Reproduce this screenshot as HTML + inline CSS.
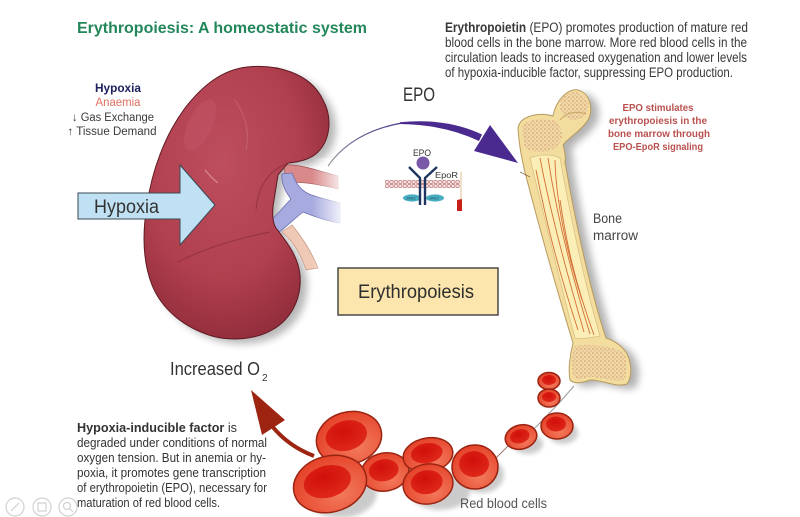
<!DOCTYPE html>
<html><head><meta charset="utf-8"><style>
html,body{margin:0;padding:0;background:#fff;}
svg{display:block;}
text{font-family:"Liberation Sans",sans-serif;}
</style></head><body>
<svg width="800" height="517" viewBox="0 0 800 517" xmlns="http://www.w3.org/2000/svg">
<defs>
  <radialGradient id="kid" cx="0.42" cy="0.35" r="0.7">
    <stop offset="0" stop-color="#bd4e5e"/>
    <stop offset="0.6" stop-color="#b1404f"/>
    <stop offset="1" stop-color="#8f2b39"/>
  </radialGradient>
  <radialGradient id="cellOut" cx="0.6" cy="0.7" r="0.7">
    <stop offset="0" stop-color="#f37a5c"/>
    <stop offset="1" stop-color="#e5432a"/>
  </radialGradient>
  <radialGradient id="cellIn" cx="0.45" cy="0.35" r="0.7">
    <stop offset="0" stop-color="#d10f0b"/>
    <stop offset="1" stop-color="#df2a1a"/>
  </radialGradient>
  <linearGradient id="fadeR" x1="0" x2="1" y1="0" y2="0">
    <stop offset="0" stop-color="#fff" stop-opacity="0"/>
    <stop offset="1" stop-color="#fff" stop-opacity="1"/>
  </linearGradient>
  <linearGradient id="thinArc" x1="0" x2="1" y1="1" y2="0">
    <stop offset="0" stop-color="#9a9a9a"/>
    <stop offset="1" stop-color="#4b3690"/>
  </linearGradient>
  <pattern id="stip" width="4" height="4" patternUnits="userSpaceOnUse">
    <rect width="4" height="4" fill="#efd8a6"/>
    <circle cx="1" cy="1" r="0.7" fill="#cf8e5c"/>
    <circle cx="3" cy="3" r="0.6" fill="#d9a070"/>
  </pattern>
  <pattern id="mem" width="4.4" height="8" patternUnits="userSpaceOnUse" x="385" y="180">
    <rect width="4.4" height="8" fill="#fbeeee"/>
    <circle cx="2.2" cy="2" r="1.7" fill="#fbe6e6" stroke="#b86a6a" stroke-width="0.6"/>
    <circle cx="2.2" cy="6" r="1.7" fill="#fbe6e6" stroke="#b86a6a" stroke-width="0.6"/>
  </pattern>
  <filter id="blur4" x="-20%" y="-20%" width="140%" height="140%"><feGaussianBlur stdDeviation="4"/></filter>
  <filter id="blur2" x="-30%" y="-30%" width="160%" height="160%"><feGaussianBlur stdDeviation="2.5"/></filter>
</defs>

<!-- Title -->
<text x="77" y="33" font-size="16" font-weight="bold" fill="#23875a" textLength="290" lengthAdjust="spacingAndGlyphs">Erythropoiesis: A homeostatic system</text>

<!-- Top right paragraph -->
<g font-size="13.5" fill="#383838">
  <text x="445" y="32" textLength="303" lengthAdjust="spacingAndGlyphs"><tspan font-weight="bold">Erythropoietin</tspan> (EPO) promotes production of mature red</text>
  <text x="445" y="47" textLength="302" lengthAdjust="spacingAndGlyphs">blood cells in the bone marrow. More red blood cells in the</text>
  <text x="445" y="62" textLength="302" lengthAdjust="spacingAndGlyphs">circulation leads to increased oxygenation and lower levels</text>
  <text x="445" y="77" textLength="288" lengthAdjust="spacingAndGlyphs">of hypoxia-inducible factor, suppressing EPO production.</text>
</g>

<!-- Left list -->
<g font-size="11.5" text-anchor="middle">
  <text x="118" y="92" font-weight="bold" fill="#1e2160" textLength="46" lengthAdjust="spacingAndGlyphs">Hypoxia</text>
  <text x="118" y="106" fill="#e0705e" textLength="45" lengthAdjust="spacingAndGlyphs">Anaemia</text>
  <text x="113" y="121" fill="#3a3a3a" textLength="82" lengthAdjust="spacingAndGlyphs">↓ Gas Exchange</text>
  <text x="112" y="135" fill="#3a3a3a" textLength="89" lengthAdjust="spacingAndGlyphs">↑ Tissue Demand</text>
</g>

<!-- Kidney shadow -->
<path d="M247,67 C275,64 310,72 323,100 C333,118 330,140 318,152 C310,160 298,162 288,163 L278,175 L272,205 L276,228 C285,240 298,255 300,275 C302,300 290,320 272,330 C255,340 230,341 212,336 C185,328 162,310 152,285 C143,262 142,235 147,205 C152,170 165,135 185,108 C203,85 222,70 247,67 Z" fill="#000" opacity="0.28" filter="url(#blur4)" transform="translate(7,5)"/>

<!-- Vessels -->
<path d="M282,232 C292,240 300,252 306,270 L318,268 C311,250 301,236 292,225 Z" fill="#efc9b6" stroke="#c49582" stroke-width="0.7"/>
<path d="M284,165 C300,164 316,170 338,176 L338,189 C318,184 300,181 286,183 Z" fill="#d9898a" stroke="#a25556" stroke-width="0.7"/>
<path d="M266,226 C277,215 284,206 291,199 C285,191 281,183 282,174 L292,173 C296,183 300,190 309,194 C319,198 329,200 340,203 L340,223 C326,221 313,216 303,212 C293,220 284,229 275,235 Z" fill="#a6aadf" stroke="#6b70ae" stroke-width="0.8"/>
<rect x="312" y="158" width="34" height="118" fill="url(#fadeR)"/>

<!-- Kidney -->
<path d="M247,67 C275,64 310,72 323,100 C333,118 330,140 318,152 C310,160 298,162 288,163 C284,168 280,172 278,175 L274,200 C272,210 272,222 276,228 C285,240 298,255 300,275 C302,300 290,320 272,330 C255,340 230,341 212,336 C185,328 162,310 152,285 C143,262 142,235 147,205 C152,170 165,135 185,108 C203,85 222,70 247,67 Z" fill="url(#kid)" stroke="#5e1a22" stroke-width="1"/>
<path d="M292,162 C270,168 258,185 256,210" fill="none" stroke="#7a2432" stroke-width="1.2" opacity="0.45"/>
<path d="M178,262 C205,248 240,238 270,232" fill="none" stroke="#7a2432" stroke-width="1.2" opacity="0.45"/>
<path d="M235,100 C245,115 250,130 246,150" fill="none" stroke="#d47888" stroke-width="1" opacity="0.5"/>
<path d="M205,170 C210,176 214,180 218,183" fill="none" stroke="#e8a0aa" stroke-width="1.2" opacity="0.7"/>
<ellipse cx="200" cy="125" rx="12" ry="28" fill="#d07080" opacity="0.18" transform="rotate(25 200 125)"/>

<!-- Hypoxia arrow -->
<path d="M78,193 L180,193 L180,165 L215,205 L180,245 L180,219 L78,219 Z" fill="#bfe1f3" stroke="#3a4a55" stroke-width="1"/>
<text x="94" y="213" font-size="19" fill="#333" textLength="65" lengthAdjust="spacingAndGlyphs">Hypoxia</text>

<!-- EPO label -->
<text x="403" y="101" font-size="19" fill="#333" textLength="32" lengthAdjust="spacingAndGlyphs">EPO</text>

<!-- Purple arc arrow -->
<path d="M328,166 Q352,132 402,123" fill="none" stroke="url(#thinArc)" stroke-width="1.2"/>
<path d="M400,122.3 Q446,117.5 482,134.5 L479,141 Q444,124.5 400,124 Z" fill="#4b2a90"/>
<path d="M518,163 L490,125 L474,151 Z" fill="#4b2a90"/>

<!-- Receptor -->
<text x="413" y="156" font-size="9" fill="#333" textLength="18" lengthAdjust="spacingAndGlyphs">EPO</text>
<rect x="385" y="180" width="75" height="8" fill="url(#mem)"/>
<ellipse cx="412" cy="198" rx="9" ry="3.6" fill="#47aec0"/>
<ellipse cx="435" cy="198" rx="9" ry="3.6" fill="#47aec0"/>
<text x="406" y="199.5" font-size="4" fill="#1f4f60">JAK2</text>
<text x="429" y="199.5" font-size="4" fill="#1f4f60">JAK2</text>
<path d="M409,167 L420,178 L420,205 M437,167 L425,178 L425,205" fill="none" stroke="#1d3560" stroke-width="2.4"/>
<circle cx="423" cy="163" r="6.5" fill="#7a58a8"/>
<text x="435" y="178" font-size="8.5" fill="#333" textLength="23" lengthAdjust="spacingAndGlyphs">EpoR</text>
<path d="M461,172 L461,200" stroke="#e6c8a0" stroke-width="1.2"/>
<path d="M457,200 L462,199 L462,211 L457,211 Z" fill="#c8201a"/>

<!-- Erythropoiesis box -->
<rect x="338" y="268" width="160" height="47" fill="#fce6ad" stroke="#4a4a4a" stroke-width="1.5"/>
<text x="358" y="298" font-size="19" fill="#2e2e2e" textLength="116" lengthAdjust="spacingAndGlyphs">Erythropoiesis</text>

<!-- EPO stimulates text -->
<g font-size="10.5" font-weight="bold" fill="#b9514e" text-anchor="middle">
  <text x="658" y="111" textLength="71" lengthAdjust="spacingAndGlyphs">EPO stimulates</text>
  <text x="658" y="124" textLength="98" lengthAdjust="spacingAndGlyphs">erythropoiesis in the</text>
  <text x="659" y="137" textLength="102" lengthAdjust="spacingAndGlyphs">bone marrow through</text>
  <text x="658" y="150" textLength="90" lengthAdjust="spacingAndGlyphs">EPO-EpoR signaling</text>
</g>

<!-- Bone shadow -->
<path d="M518,128 C520,116 538,112 553,116 C556,100 568,88 578,90 C590,93 594,110 588,120 C582,130 568,138 563,145 C565,152 566,158 565,162 C575,220 590,290 606,338 C618,342 628,350 630,363 C632,372 630,380 627,384 C615,388 600,379 590,380 C582,383 574,384 570,380 C568,370 570,355 573,343 C560,300 540,230 527,180 C523,165 519,148 518,128 Z" fill="#000" opacity="0.3" filter="url(#blur4)" transform="translate(8,4)"/>
<!-- Bone -->
<path d="M518,128 C520,116 538,112 553,116 C556,100 568,88 578,90 C590,93 594,110 588,120 C582,130 568,138 563,145 C565,152 566,158 565,162 C575,220 590,290 606,338 C618,342 628,350 630,363 C632,372 630,380 627,384 C615,388 600,379 590,380 C582,383 574,384 570,380 C568,370 570,355 573,343 C560,300 540,230 527,180 C523,165 519,148 518,128 Z" fill="#f3dd9e" stroke="#b89a5e" stroke-width="1"/>
<circle cx="574" cy="106" r="14" fill="url(#stip)"/>
<path d="M522,128 C524,120 540,117 556,121 C560,126 564,134 560,142 C555,150 548,152 540,152 C532,152 526,150 524,145 Z" fill="url(#stip)"/>
<path d="M574,346 C590,343 610,346 624,352 C628,362 627,374 624,380 C612,383 598,376 588,377 C580,380 575,380 573,376 C572,366 572,355 574,346 Z" fill="url(#stip)"/>
<path d="M560,120 C566,113 576,110 586,114" fill="none" stroke="#c9a86a" stroke-width="1"/>
<path d="M530,158 C540,154 552,154 560,158 C570,215 585,285 600,336 C590,338 580,339 575,338 C562,290 545,220 530,158 Z" fill="#fbeeb6" stroke="#d7bd80" stroke-width="0.7"/>
<g fill="none" stroke="#cc5a20" stroke-width="0.9" opacity="0.85">
  <path d="M540,158 C548,200 560,250 584,332"/>
  <path d="M548,158 C556,210 570,270 590,334"/>
  <path d="M555,160 C556,200 566,250 582,300"/>
  <path d="M536,170 C545,215 555,260 578,330"/>
  <path d="M560,200 C566,240 574,280 594,335"/>
</g>
<path d="M530,177 L520,172" stroke="#8a7050" stroke-width="0.8"/>

<!-- Bone marrow label -->
<g font-size="13.5" fill="#444">
  <text x="593" y="223" textLength="29" lengthAdjust="spacingAndGlyphs">Bone</text>
  <text x="593" y="240" textLength="45" lengthAdjust="spacingAndGlyphs">marrow</text>
</g>

<!-- Increased O2 -->
<text x="170" y="375" font-size="18.5" fill="#333" textLength="90" lengthAdjust="spacingAndGlyphs">Increased O</text>
<text x="262" y="381" font-size="10" fill="#333">2</text>

<!-- Red arrow -->
<path d="M314,456 Q288,446 272,426" fill="none" stroke="#9e2412" stroke-width="4"/>
<path d="M251,390 L262,435 L285,420 Z" fill="#9e2412"/>

<!-- connectors between cells -->
<polyline points="574,386 560,402 535,428" fill="none" stroke="#9a9a9a" stroke-width="1"/>
<polyline points="508,446 494,460" fill="none" stroke="#9a7a70" stroke-width="1"/>

<!-- Cell shadows -->
<g filter="url(#blur2)" fill="#000" opacity="0.2">
  <ellipse cx="340" cy="492" rx="37" ry="26"/>
  <ellipse cx="440" cy="492" rx="30" ry="18"/>
  <ellipse cx="482" cy="475" rx="22" ry="18"/>
  <ellipse cx="528" cy="444" rx="15" ry="10"/>
  <ellipse cx="563" cy="433" rx="15" ry="11"/>
</g>

<!-- Red blood cells (back to front) -->
<g stroke="#9a2412" stroke-width="1.5">
  <g transform="translate(385,472) rotate(-10)"><ellipse rx="24" ry="19" fill="url(#cellOut)"/><ellipse cx="-1" cy="-2" rx="15" ry="11" fill="url(#cellIn)" stroke="none"/></g>
  <g transform="translate(349,438) rotate(-15)"><ellipse rx="33" ry="26" fill="url(#cellOut)"/><ellipse cx="-2" cy="-3" rx="21" ry="15" fill="url(#cellIn)" stroke="none"/></g>
  <g transform="translate(428,455) rotate(-10)"><ellipse rx="25" ry="17" fill="url(#cellOut)"/><ellipse cx="-1" cy="-2" rx="16" ry="10" fill="url(#cellIn)" stroke="none"/></g>
  <g transform="translate(475,467)"><ellipse rx="23" ry="22" fill="url(#cellOut)"/><ellipse cx="-1" cy="-3" rx="15" ry="13" fill="url(#cellIn)" stroke="none"/></g>
  <g transform="translate(428,484) rotate(-8)"><ellipse rx="25" ry="20" fill="url(#cellOut)"/><ellipse cx="-1" cy="-2" rx="16" ry="12" fill="url(#cellIn)" stroke="none"/></g>
  <g transform="translate(330,484) rotate(-15)"><ellipse rx="37" ry="28" fill="url(#cellOut)"/><ellipse cx="-2" cy="-3" rx="24" ry="16" fill="url(#cellIn)" stroke="none"/></g>
  <g transform="translate(521,437) rotate(-15)"><ellipse rx="16" ry="12" fill="url(#cellOut)"/><ellipse cx="-1" cy="-1" rx="10" ry="7" fill="url(#cellIn)" stroke="none"/></g>
  <g transform="translate(557,426)"><ellipse rx="16" ry="13" fill="url(#cellOut)"/><ellipse cx="-1" cy="-2" rx="10" ry="7.5" fill="url(#cellIn)" stroke="none"/></g>
  <g transform="translate(549,381)"><ellipse rx="11" ry="8.5" fill="url(#cellOut)"/><ellipse cx="0" cy="-1" rx="7" ry="5" fill="url(#cellIn)" stroke="none"/></g>
  <g transform="translate(549,398)"><ellipse rx="11" ry="9" fill="url(#cellOut)"/><ellipse cx="0" cy="-1" rx="7" ry="5" fill="url(#cellIn)" stroke="none"/></g>
</g>

<!-- Red blood cells label -->
<text x="460" y="508" font-size="13.5" fill="#555" textLength="87" lengthAdjust="spacingAndGlyphs">Red blood cells</text>

<!-- HIF paragraph -->
<g font-size="12.8" fill="#333">
  <text x="77" y="432" textLength="160" lengthAdjust="spacingAndGlyphs"><tspan font-weight="bold">Hypoxia-inducible factor</tspan> is</text>
  <text x="77" y="447" textLength="190" lengthAdjust="spacingAndGlyphs">degraded under conditions of normal</text>
  <text x="77" y="462" textLength="189" lengthAdjust="spacingAndGlyphs">oxygen tension. But in anemia or hy-</text>
  <text x="77" y="477" textLength="189" lengthAdjust="spacingAndGlyphs">poxia, it promotes gene transcription</text>
  <text x="77" y="492" textLength="190" lengthAdjust="spacingAndGlyphs">of erythropoietin (EPO), necessary for</text>
  <text x="77" y="507" textLength="143" lengthAdjust="spacingAndGlyphs">maturation of red blood cells.</text>
</g>

<!-- faint bottom-left icons -->
<g fill="#fff" fill-opacity="0.6" stroke="#d0d0d0" stroke-width="1.2">
  <circle cx="15" cy="507" r="9"/>
  <circle cx="42" cy="507" r="9"/>
  <circle cx="68" cy="507" r="9"/>
</g>
<g stroke="#d0d0d0" stroke-width="1.2" fill="none">
  <path d="M11,511 L19,503"/>
  <rect x="38" y="503" width="8" height="8"/>
  <circle cx="67" cy="506" r="3.5"/><path d="M70,509 L73,512"/>
</g>
</svg>
</body></html>
